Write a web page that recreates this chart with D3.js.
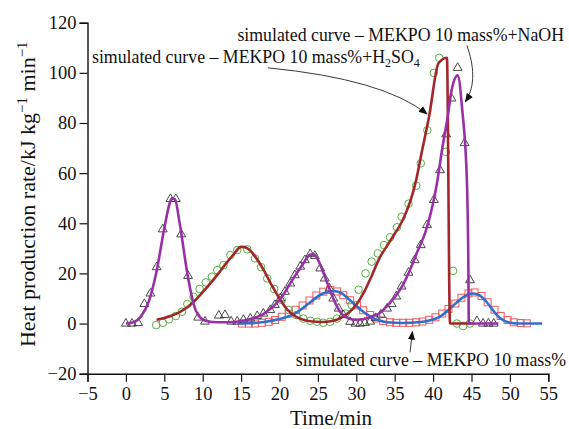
<!DOCTYPE html>
<html>
<head>
<meta charset="utf-8">
<script src="https://cdn.jsdelivr.net/npm/d3@7"></script>
<style>
  html, body { margin: 0; padding: 0; background: #fff; }
  svg { display: block; }
  svg text { font-family: "Liberation Serif", "DejaVu Serif", "Noto Serif", serif !important; fill: #111; }
</style>
</head>
<body>
<div id="chart"></div>
<script>
// ---- data (time in min, heat production rate in kJ kg^-1 min^-1) ----
const xTicks = [-5, 0, 5, 10, 15, 20, 25, 30, 35, 40, 45, 50, 55];
const yTicks = [-20, 0, 20, 40, 60, 80, 100, 120];

// MEKPO 10 mass% : experimental points
const pureExp = [
  [15.1,0],[16,0],[16.8,0],[17.7,0.3],[18.6,0.7],[19.4,1.4],[20.3,2.7],[21.2,4],
  [22.1,5.5],[23,7.2],[23.9,9.2],[24.8,11.2],[25.7,12.7],[26.6,13.4],[27.5,12.8],
  [28.3,11.3],[29.2,9.3],[30.1,7.3],[30.9,5.3],[31.8,3.4],[32.6,2],[33.5,1],
  [34.4,0.5],[35.2,0.3],[36.1,0.3],[36.9,0.3],[37.8,0.5],[38.6,0.8],[39.5,1.5],
  [40.3,2.5],[41.2,4],[42,5.8],[42.9,8],[43.7,10.3],[44.6,12],[45.4,12.4],
  [46.3,11],[47.1,8.5],[48,5.5],[48.8,3],[49.7,1.4],[50.5,0.5],[51.4,0.2],[52.2,0.1]
];
// MEKPO 10 mass% : simulated curve
const pureSim = [
  [14.5,0],[16,0.1],[18,0.6],[20,1.8],[22,4],[24,8.5],[25.5,11.8],[27,13],
  [28,12.2],[29,9.8],[30,7],[31,4.5],[32,2.5],[33,1.2],[34,0.5],[36,0.2],
  [38,0.5],[39.5,1.2],[41,3],[42.2,6],[43.5,9.5],[44.5,11.6],[45.3,12],
  [46,11.3],[47,8.5],[48,4.5],[48.7,2.2],[50,0.3],[51,0],[54.2,0]
];

// MEKPO 10 mass% + NaOH : experimental points
const naohExp = [
  [0,0],[0.8,0],[1.6,0.2],[2.4,7.8],[3.2,12],[4,22.5],[4.8,37.6],[5.8,49.7],
  [6.5,49.7],[7.2,35.6],[8.1,19],[9.4,2.4],[10.3,0.8],[12.1,3.2],[12.9,3.4],
  [13.7,0.8],[14.5,0.8],[15.3,1.5],[16.2,2],[17.1,3],[17.9,4],[18.8,5.4],
  [19.4,7.4],[20.1,10],[20.7,12.7],[21.4,16],[22,19.3],[22.7,22.7],[23.3,25.3],
  [24,27.7],[24.6,27],[25.3,22],[25.9,18],[26.5,14],[27,10],[27.7,6],[28.3,3.4],
  [29.2,0.7],[29.9,0],[30.5,0],[31.1,0.3],[31.8,0.8],[32.5,2.2],[33.2,3.6],
  [34,6],[34.6,7.8],[35.2,10.8],[35.9,14.8],[36.8,20.3],[37.6,25.3],[38.4,31.3],
  [39.2,39.3],[40.1,49.3],[40.9,61.2],[41.7,75.5],[42.4,89.8],[43.2,102],
  [44.1,72],[44.8,17.3],[45.7,1],[46.5,0],[47.2,0],[47.9,0]
];
// MEKPO 10 mass% + NaOH : simulated curve
const naohSim = [
  [0,0],[1,0.5],[2,3],[3,9],[4,21],[5,38],[5.7,48],[6,50],[6.4,49.5],[7,40],
  [8,20],[8.8,8],[9.5,3],[10.5,1],[12,0.5],[14,0.6],[16,1.6],[18,4],[20,9.4],
  [22,19],[23,23.5],[24,27.5],[24.5,27.6],[25,25.5],[26,18],[27,10],[28,4.2],
  [29,2],[30,1.5],[31,1.8],[32,2.8],[33,4],[34,7],[35,10.5],[36,15],[37,21.5],
  [38,29],[39,36.5],[40,48],[40.5,56],[41.2,70],[42,84.5],[42.4,93],[43.2,99],
  [43.8,85],[44.4,57],[44.6,20],[44.65,0],[48.5,0]
];

// MEKPO 10 mass% + H2SO4 : experimental points
const acidExp = [
  [3.95,-0.6],[4.8,0.3],[5.6,1.7],[6.5,3],[7.3,4.7],[8,7.8],[8.8,10.7],[9.6,13.8],
  [10.4,16.4],[11.2,18.7],[11.9,21.3],[12.7,23.3],[13.6,27.3],[14.5,29.3],
  [15.8,29.6],[16.8,26],[17.6,22.5],[18.4,18],[19.3,13.8],[20.3,9.4],[21.2,5.4],
  [22.2,3.4],[23.1,2],[24,1.1],[24.9,0.7],[25.7,0.3],[26.6,0.7],[27.5,2],
  [28.6,4],[29.4,7.4],[30.3,13.5],[31.2,20],[32,24.7],[32.8,28],[33.6,31.3],
  [34.4,34.4],[35.3,38.4],[35.9,42.6],[36.8,47.8],[37.8,55],[38.4,63.9],
  [39.25,77.1],[40.1,100],[40.8,106],[41.65,68.5],[42.6,21],[43.1,0],[43.9,-1],[44.8,0]
];
// MEKPO 10 mass% + H2SO4 : simulated curve
const acidSim = [
  [4,1.5],[5,2.2],[6,3.2],[7,4.6],[8,6.5],[9,9.2],[10,12.5],[11,16],[12,19.8],
  [13,23.8],[14,27.5],[15,30.6],[15.5,30.5],[16,29.6],[17,26],[18,21],[19,15.2],
  [20,10],[21,5.6],[22,3],[23,1.6],[24,0.9],[25.5,0.6],[27,1.1],[28,2.3],[29,4.3],
  [30,7.5],[31,12.5],[32,19],[33,26],[34,31],[35,35.8],[36,41],[37,48.5],
  [37.7,56],[38.5,68],[39.5,83],[40.7,103.8],[41.8,106],[42.2,0],[45.2,0]
];

// ---- layout ----
const W = 569, H = 429;
const FONT = "'Liberation Serif', 'DejaVu Serif', serif";
const svg = d3.select("#chart").append("svg").attr("width", W).attr("height", H)
  .style("font-family", FONT);

const x = d3.scaleLinear().domain([-5, 55]).range([87.5, 548.3]);
const y = d3.scaleLinear().domain([-20, 120]).range([373.7, 22.7]);

const colors = {
  pureLine: "#2f6fce", pureMark: "#f0585a",
  naohLine: "#9830a6", naohMark: "#333",
  acidLine: "#a3262a", acidMark: "#55b040"
};

// ---- axes ----
const xMinor = d3.range(-5, 55.01, 2.5);
const yMinor = d3.range(-20, 120.01, 10);

function styleAxis(g) {
  g.attr("font-family", null).attr("font-size", null);
  g.selectAll("path.domain").attr("stroke", "#111").attr("stroke-width", 1.4);
  g.selectAll("line").attr("stroke", "#111").attr("stroke-width", 1.2);
  g.selectAll("text").style("font-size", "18.5px").style("font-family", FONT).attr("fill", "#111");
}

const gx = svg.append("g").attr("transform", `translate(0,${y(-20)})`);
gx.call(d3.axisBottom(x).tickValues(xMinor).tickSize(4).tickFormat(""));
gx.call(d3.axisBottom(x).tickValues(xTicks).tickSize(8).tickPadding(5).tickFormat(d3.format("d")));
styleAxis(gx);

const gy = svg.append("g").attr("transform", `translate(${x(-5)},0)`);
gy.call(d3.axisLeft(y).tickValues(yMinor).tickSize(4).tickFormat(""));
gy.call(d3.axisLeft(y).tickValues(yTicks).tickSize(8).tickPadding(3).tickFormat(d3.format("d")));
styleAxis(gy);

// axis titles
svg.append("text")
  .attr("x", 331).attr("y", 425)
  .attr("text-anchor", "middle").style("font-size", "21px")
  .text("Time/min");

const yTitle = svg.append("text")
  .attr("transform", `translate(35,${(y(-20) + y(120)) / 2 - 4}) rotate(-90)`)
  .attr("text-anchor", "middle").style("font-size", "22px");
yTitle.append("tspan").text("Heat production rate/kJ kg");
yTitle.append("tspan").attr("dy", -8).style("font-size", "15px").text("−1");
yTitle.append("tspan").attr("dy", 8).text(" min");
yTitle.append("tspan").attr("dy", -8).style("font-size", "15px").text("−1");

// ---- marks ----
const plot = svg.append("g");

// squares: MEKPO 10 mass%
plot.append("g").selectAll("rect").data(pureExp).join("rect")
  .attr("x", d => x(d[0]) - 3.5).attr("y", d => y(d[1]) - 3.5)
  .attr("width", 7).attr("height", 7)
  .attr("fill", "none").attr("stroke", colors.pureMark).attr("stroke-width", 1);

// circles: + H2SO4
plot.append("g").selectAll("circle").data(acidExp).join("circle")
  .attr("cx", d => x(d[0])).attr("cy", d => y(d[1])).attr("r", 3.8)
  .attr("fill", "none").attr("stroke", colors.acidMark).attr("stroke-width", 1);

// triangles: + NaOH
const tri = d3.symbol().type(d3.symbolTriangle).size(34);
plot.append("g").selectAll("path").data(naohExp).join("path")
  .attr("transform", d => `translate(${x(d[0])},${y(d[1])})`)
  .attr("d", tri)
  .attr("fill", "none").attr("stroke", colors.naohMark).attr("stroke-width", 0.9);

// simulated curves
const line = d3.line().x(d => x(d[0])).y(d => y(d[1])).curve(d3.curveMonotoneX);
plot.append("path").datum(pureSim).attr("d", line)
  .attr("fill", "none").attr("stroke", colors.pureLine).attr("stroke-width", 2.6);
plot.append("path").datum(acidSim).attr("d", line)
  .attr("fill", "none").attr("stroke", colors.acidLine).attr("stroke-width", 2.6);
plot.append("path").datum(naohSim).attr("d", line)
  .attr("fill", "none").attr("stroke", colors.naohLine).attr("stroke-width", 2.6);

// ---- annotations ----
svg.append("defs").append("marker")
  .attr("id", "head").attr("viewBox", "0 0 10 10")
  .attr("refX", 9).attr("refY", 5)
  .attr("markerWidth", 9).attr("markerHeight", 9)
  .attr("markerUnits", "userSpaceOnUse")
  .attr("orient", "auto")
  .append("path").attr("d", "M0,1 L10,5 L0,9 z").attr("fill", "#111");

function arrow(pts) {
  const p = d3.path();
  const P = pts.map(d => [x(d[0]), y(d[1])]);
  p.moveTo(P[0][0], P[0][1]);
  if (P.length === 2) p.lineTo(P[1][0], P[1][1]);
  else if (P.length === 3) p.quadraticCurveTo(P[1][0], P[1][1], P[2][0], P[2][1]);
  else p.bezierCurveTo(P[1][0], P[1][1], P[2][0], P[2][1], P[3][0], P[3][1]);
  svg.append("path").attr("d", p.toString())
    .attr("fill", "none").attr("stroke", "#222").attr("stroke-width", 0.9)
    .attr("marker-end", "url(#head)");
}

// NaOH label
svg.append("text").attr("x", 564).attr("y", 41).attr("text-anchor", "end")
  .style("font-size", "17.8px").text("simulated curve – MEKPO 10 mass%+NaOH");
arrow([[44.4, 111], [45.3, 103], [45.6, 95], [44.2, 88.5]]);

// H2SO4 label
const acidLabel = svg.append("text").attr("x", 92).attr("y", 63)
  .style("font-size", "17.8px");
acidLabel.append("tspan").text("simulated curve – MEKPO 10 mass%+H");
acidLabel.append("tspan").attr("dy", 4).style("font-size", "12px").text("2");
acidLabel.append("tspan").attr("dy", -4).text("SO");
acidLabel.append("tspan").attr("dy", 4).style("font-size", "12px").text("4");
arrow([[18.5, 102], [33.5, 97.5], [39.2, 83.6]]);

// pure MEKPO label
svg.append("text").attr("x", 566).attr("y", 366).attr("text-anchor", "end")
  .style("font-size", "17.8px").text("simulated curve – MEKPO 10 mass%");
arrow([[37, -11.5], [37.3, -3.2]]);
</script>
</body>
</html>
